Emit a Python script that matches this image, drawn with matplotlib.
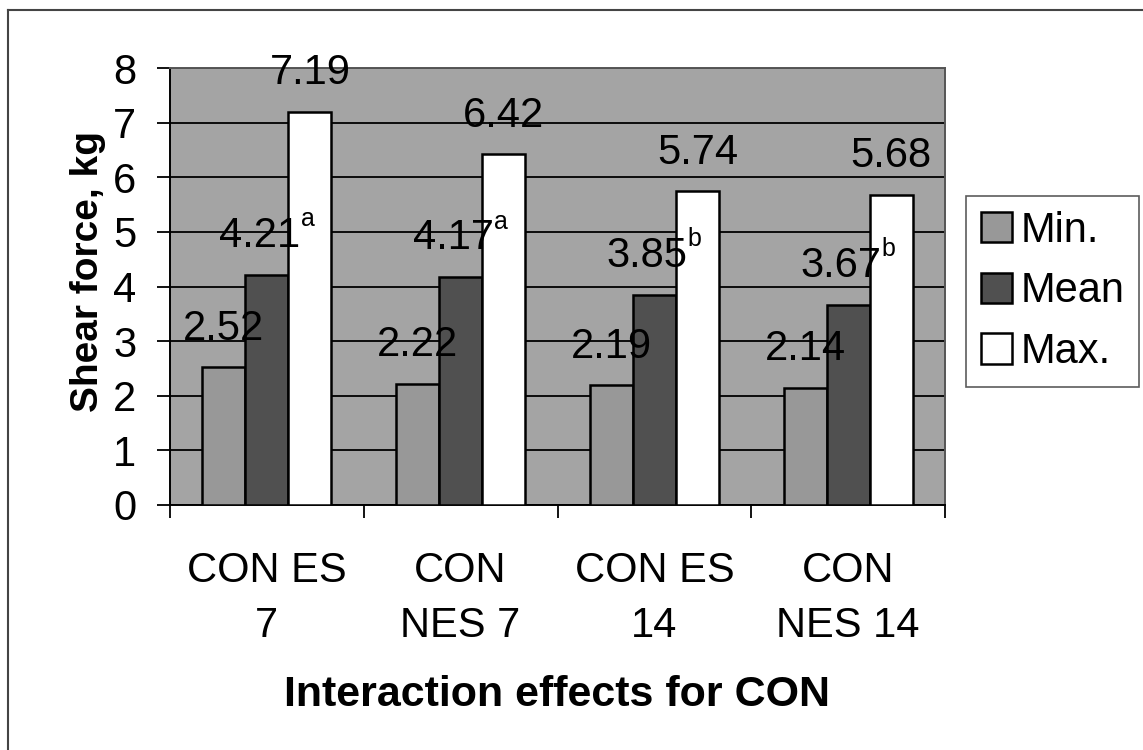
import matplotlib
matplotlib.use("Agg")
import matplotlib.pyplot as plt
import numpy as np
from matplotlib.lines import Line2D

categories = ["CON ES\n7", "CON\nNES 7", "CON ES\n14", "CON\nNES 14"]
min_vals = [2.52, 2.22, 2.19, 2.14]
mean_vals = [4.21, 4.17, 3.85, 3.67]
max_vals = [7.19, 6.42, 5.74, 5.68]
mean_letters = ["a", "a", "b", "b"]
series_names = ["Min.", "Mean", "Max."]
y_ticks = [0, 1, 2, 3, 4, 5, 6, 7, 8]

plt.rcParams['font.family'] = ['Liberation Sans', 'DejaVu Sans']

W, H = 1143, 750
DPI = 100
fig = plt.figure(figsize=(W / DPI, H / DPI), dpi=DPI)
fig.patch.set_facecolor('white')

ax = fig.add_axes([170 / W, (H - 505) / H, (945 - 170) / W, (505 - 68) / H])
ax.set_facecolor('#a4a4a4')

x = np.arange(len(categories))
w = 0.222
colors = ['#989898', '#505050', '#ffffff']
series = [min_vals, mean_vals, max_vals]
for i, (vals, c, name) in enumerate(zip(series, colors, series_names)):
    ax.bar(x + (i - 1) * w, vals, w, color=c, edgecolor='black', linewidth=1.8,
           label=name, zorder=3)

fs = 30
sup_fs = 18
off = 20  # points above bar top (baseline)
sup_raise = 15  # points


def px2pt(p):
    return p * 72.0 / DPI


renderer = fig.canvas.get_renderer()
for i in range(len(categories)):
    ax.annotate(f"{min_vals[i]:.2f}", (x[i] - w, min_vals[i]), xytext=(0, off),
                textcoords='offset points', ha='center', va='baseline', fontsize=fs,
                zorder=5, annotation_clip=False)
    ax.annotate(f"{max_vals[i]:.2f}", (x[i] + w, max_vals[i]), xytext=(0, off),
                textcoords='offset points', ha='center', va='baseline', fontsize=fs,
                zorder=5, annotation_clip=False)
    # mean value with superscript letter, centered as a whole
    tn = ax.annotate(f"{mean_vals[i]:.2f}", (x[i], mean_vals[i]), xytext=(0, off),
                     textcoords='offset points', ha='left', va='baseline', fontsize=fs,
                     zorder=5, annotation_clip=False)
    ts = ax.annotate(mean_letters[i], (x[i], mean_vals[i]), xytext=(0, off + sup_raise),
                     textcoords='offset points', ha='left', va='baseline', fontsize=sup_fs,
                     zorder=5, annotation_clip=False)
    wn = tn.get_window_extent(renderer).width
    ws = ts.get_window_extent(renderer).width
    total = wn + ws
    tn.set_position((px2pt(-total / 2), off))
    ts.set_position((px2pt(-total / 2 + wn), off + sup_raise))

ax.set_ylim(0, 8)
ax.set_xlim(-0.5, len(categories) - 0.5)
ax.set_yticks(y_ticks)
ax.yaxis.grid(True, color='black', linewidth=1.3, zorder=1)
ax.set_axisbelow(True)
ax.tick_params(axis='y', labelsize=fs, length=9.4, width=1.3, direction='out', pad=15)
ax.set_xticks(x)
ax.set_xticklabels(categories, fontsize=fs, linespacing=1.5)
ax.tick_params(axis='x', length=0, pad=33)
ax.set_xticks(np.arange(-0.5, len(categories)), minor=True)
ax.tick_params(axis='x', which='minor', length=9.4, width=1.3, direction='out')

for s in ['left', 'bottom']:
    ax.spines[s].set_color('black')
    ax.spines[s].set_linewidth(1.4)
for s in ['top', 'right']:
    ax.spines[s].set_color('#555555')
    ax.spines[s].set_linewidth(1.4)

ax.set_ylabel("Shear force, kg", fontsize=28, fontweight='bold')
ax.yaxis.set_label_coords(-0.083, 0.535)
ax.set_xlabel("Interaction effects for CON", fontsize=31, fontweight='bold', labelpad=21)

leg = fig.legend(loc='upper left', bbox_to_anchor=(966 / W, 1 - 196 / H),
                 fontsize=30, frameon=True, fancybox=False, edgecolor='#333333',
                 handlelength=0.75, handleheight=0.75, handletextpad=0.2,
                 labelspacing=0.5, borderpad=0.35, borderaxespad=0)
leg.get_frame().set_linewidth(1.2)

# outer chart border
fig.add_artist(Line2D([8 / W, 8 / W], [0, 1 - 10 / H], transform=fig.transFigure,
                      color='#444444', linewidth=1.5))
fig.add_artist(Line2D([8 / W, 1], [1 - 10 / H, 1 - 10 / H], transform=fig.transFigure,
                      color='#444444', linewidth=1.5))

fig.savefig("out.png", dpi=DPI)
